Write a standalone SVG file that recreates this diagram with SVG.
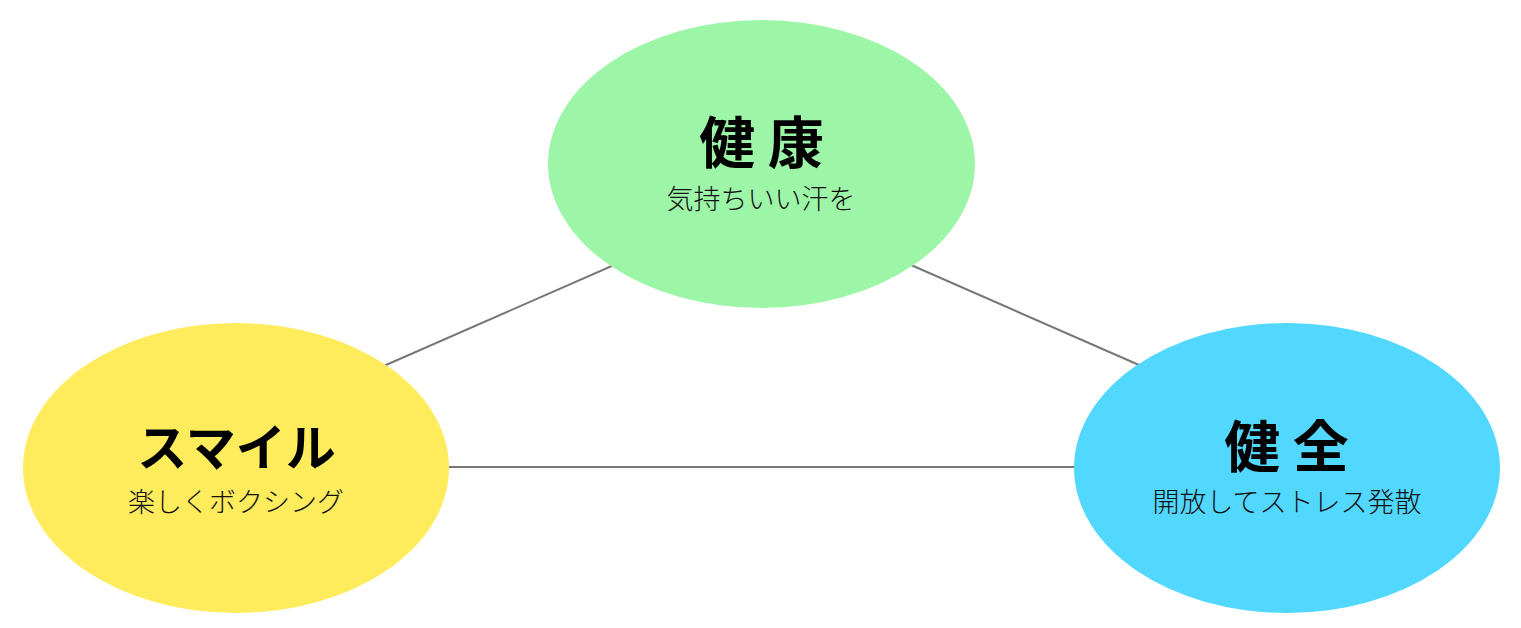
<svg xmlns="http://www.w3.org/2000/svg" width="1521" height="628" viewBox="0 0 1521 628">
<style>
.conn{stroke:#777777;stroke-width:2;fill:none}
.title{font-family:"Noto Sans CJK JP","Noto Sans",sans-serif;font-weight:bold;font-size:56px;fill:#000;text-anchor:middle}
.sub{font-family:"Noto Sans CJK JP","Noto Sans",sans-serif;font-weight:300;font-size:27px;fill:#111;text-anchor:middle}
</style>
<rect width="1521" height="628" fill="#ffffff"/>
<g id="connectors">
<line class="conn" x1="370" y1="372" x2="630" y2="258"/>
<line class="conn" x1="895" y1="258" x2="1155" y2="372"/>
<line class="conn" x1="440" y1="467" x2="1085" y2="467"/>
</g>
<g id="node-kenkou">
<ellipse cx="761.5" cy="164" rx="213.5" ry="144" fill="#9df5a8"/>
<text class="title" x="761.5" y="163">健 康</text>
<text class="sub" x="761" y="209">気持ちいい汗を</text>
</g>
<g id="node-smile">
<ellipse cx="236" cy="468" rx="213" ry="145" fill="#ffec5c"/>
<text class="title" x="236.5" y="466" style="font-size:50px">スマイル</text>
<text class="sub" x="236" y="512">楽しくボクシング</text>
</g>
<g id="node-kenzen">
<ellipse cx="1287" cy="468" rx="213" ry="145" fill="#52d8ff"/>
<text class="title" x="1286.5" y="467">健 全</text>
<text class="sub" x="1287" y="512">開放してストレス発散</text>
</g>
</svg>
